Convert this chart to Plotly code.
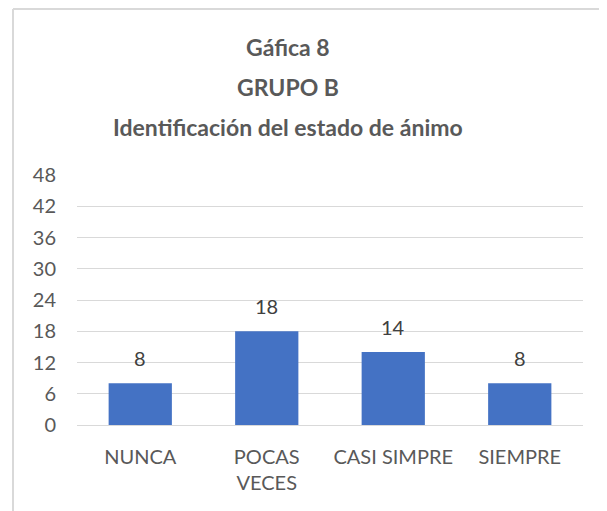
import plotly.graph_objects as go

categories = ["NUNCA", "POCAS VECES", "CASI SIMPRE", "SIEMPRE"]
tick_labels = ["NUNCA", "POCAS<br>VECES", "CASI SIMPRE", "SIEMPRE"]
values = [8, 18, 14, 8]
y_ticks = [0, 6, 12, 18, 24, 30, 36, 42, 48]
title_lines = ["Gáfica 8", "GRUPO B", "Identificación del estado de ánimo"]

# page body has an 8px default margin, so the figure starts at (8, 8)
OFF = 8
W, H = 607 - OFF, 511 - OFF
L, R, T, B = 77 - OFF, 24, 175 - OFF, 86
pw = W - L - R
ph = H - T - B

FONT = "Lato"
GRAY = "#595959"

fig = go.Figure()
fig.add_trace(go.Bar(
    x=categories, y=values,
    marker=dict(color="#4472C4", line=dict(width=0)),
    width=0.5,
))

# data labels
for c, v in zip(categories, values):
    fig.add_annotation(x=c, y=v, xref="x", yref="y", text=str(v),
                       showarrow=False, yanchor="bottom", yshift=11,
                       font=dict(family=FONT, size=20, color="#404040"))

# title lines (centred over the whole chart box)
title_cx = (288 - 77) / pw
for i, line in enumerate(title_lines):
    cy = 47 + 40 * i - OFF
    fig.add_annotation(x=title_cx, xref="paper", yref="paper",
                       y=1 + (T - cy) / ph, yanchor="middle", xanchor="center",
                       text="<b>" + line + "</b>", showarrow=False,
                       font=dict(family=FONT, size=23, color=GRAY))

fig.update_layout(
    width=W, height=H,
    margin=dict(l=L, r=R, t=T, b=B),
    paper_bgcolor="white", plot_bgcolor="white",
    showlegend=False,
    bargap=0.5,
    xaxis=dict(
        tickmode="array", tickvals=categories, ticktext=tick_labels,
        tickfont=dict(family=FONT, size=20, color=GRAY),
        showgrid=False, showline=True, linecolor="#d9d9d9", linewidth=1,
        ticks="", ticklabelstandoff=14,
    ),
    yaxis=dict(
        range=[0, 48], tickmode="array", tickvals=y_ticks,
        tickfont=dict(family=FONT, size=20, color=GRAY),
        showgrid=True, gridcolor="#d9d9d9", gridwidth=1,
        zeroline=False, showline=False, ticks="",
        ticklabelstandoff=20,
    ),
)

# chart border (top and left edges visible)
x_left = (13 - OFF - L) / pw
y_top = 1 + (T - (8 - OFF) - 1) / ph
fig.add_shape(type="line", xref="paper", yref="paper",
              x0=x_left, x1=(W + 5 - L) / pw, y0=y_top, y1=y_top,
              line=dict(color="#d9d9d9", width=2))
fig.add_shape(type="line", xref="paper", yref="paper",
              x0=x_left, x1=x_left, y0=y_top, y1=-(B + 5) / ph,
              line=dict(color="#d9d9d9", width=2))

fig.write_html("out.html")
